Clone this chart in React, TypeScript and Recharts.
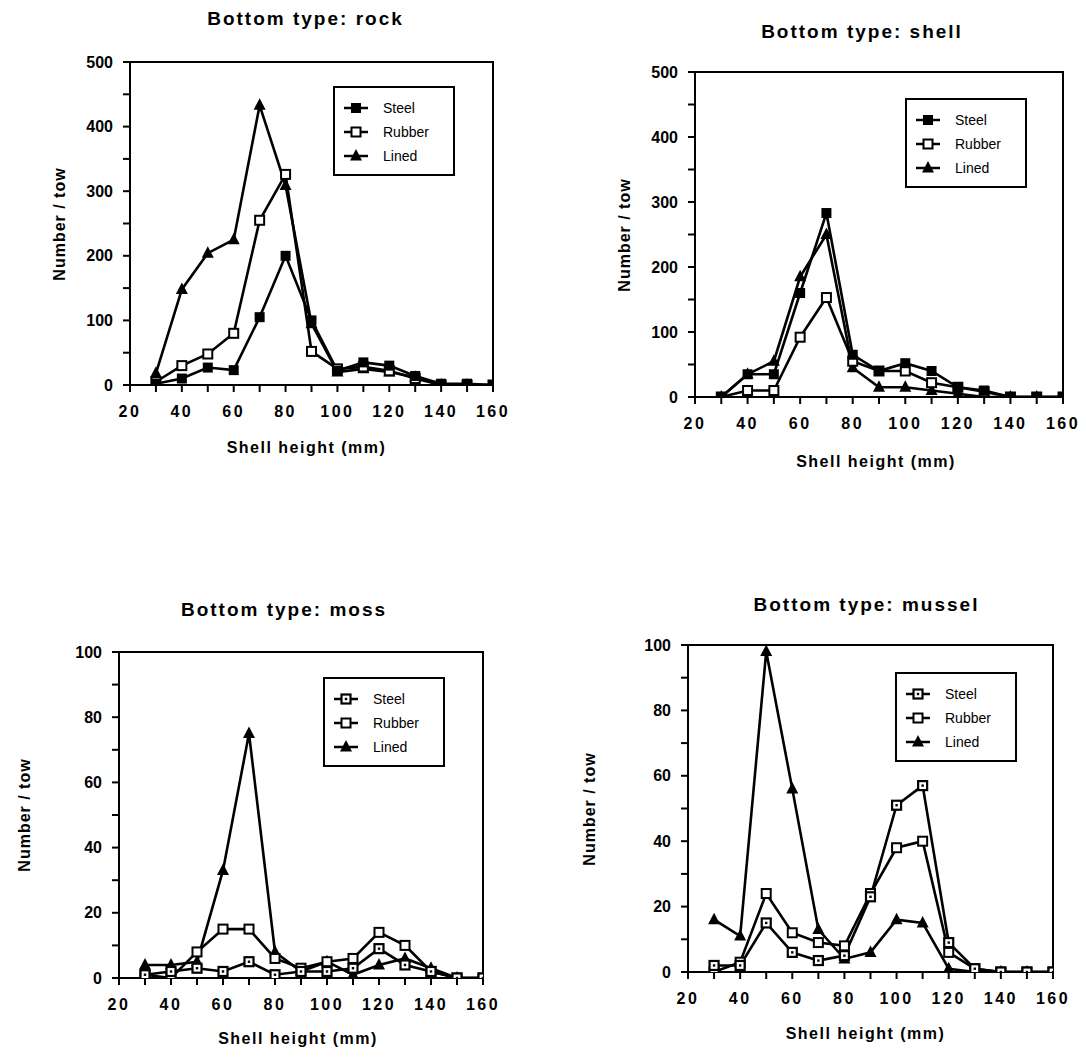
import React from "react";
import { LineChart, Line, XAxis, YAxis, ReferenceArea } from "recharts";

// shell height classes (mm)
const sizes = [30, 40, 50, 60, 70, 80, 90, 100, 110, 120, 130, 140, 150, 160];
const xTicks = [20, 30, 40, 50, 60, 70, 80, 90, 100, 110, 120, 130, 140, 150, 160];

// Bottom type: rock
const rockSteel = [2, 10, 27, 23, 105, 200, 100, 22, 35, 30, 14, 2, 2, 0];
const rockRubber = [5, 30, 48, 80, 255, 326, 52, 25, 28, 22, 10, 0, 0, 0];
const rockLined = [18, 148, 204, 225, 433, 309, 95, 20, 25, 20, 12, 0, 0, 0];

// Bottom type: shell
const shellSteel = [0, 35, 35, 160, 283, 65, 40, 52, 40, 15, 10, 0, 0, 0];
const shellRubber = [0, 10, 10, 92, 153, 55, 40, 40, 22, 15, 8, 0, 0, 0];
const shellLined = [0, 35, 55, 185, 250, 45, 15, 15, 10, 5, 0, 0, 0, 0];

// Bottom type: moss
const mossSteel = [1, 2, 3, 2, 5, 1, 2, 2, 3, 9, 4, 2, 0, 0];
const mossRubber = [1, 0, 8, 15, 15, 6, 3, 5, 6, 14, 10, 2, 0, 0];
const mossLined = [4, 4, 5, 33, 75, 8, 2, 5, 1, 4, 6, 3, 0, 0];

// Bottom type: mussel
const musselSteel = [2, 2, 15, 6, 3.5, 5, 23, 51, 57, 9, 1, 0, 0, 0];
const musselRubber = [0, 3, 24, 12, 9, 8, 24, 38, 40, 6, 1, 0, 0, 0];
const musselLined = [16, 11, 98, 56, 13, 4, 6, 16, 15, 1, 0, 0, 0, 0];

const rockTicks = [0, 50, 100, 150, 200, 250, 300, 350, 400, 450, 500];
const smallTicks = [0, 10, 20, 30, 40, 50, 60, 70, 80, 90, 100];

const FONT = '"Liberation Sans", Arial, Helvetica, sans-serif';

const buildRows = (steel: number[], rubber: number[], lined: number[]) =>
  sizes.map((s, i) => ({ size: s, steel: steel[i], rubber: rubber[i], lined: lined[i] }));

// marker shapes
const Marker = ({ cx, cy, kind }: { cx: number; cy: number; kind: string }) => {
  if (cx == null || cy == null) return null;
  if (kind === "filled") {
    return <rect x={cx - 5} y={cy - 5} width={10} height={10} fill="#000" />;
  }
  if (kind === "dotted") {
    return (
      <g>
        <rect x={cx - 4.5} y={cy - 4.5} width={9} height={9} fill="#fff" stroke="#000" strokeWidth={2.2} />
        <rect x={cx - 1.2} y={cy - 1.2} width={2.4} height={2.4} fill="#000" />
      </g>
    );
  }
  if (kind === "open") {
    return <rect x={cx - 4.5} y={cy - 4.5} width={9} height={9} fill="#fff" stroke="#000" strokeWidth={2} />;
  }
  // triangle
  return <polygon points={`${cx},${cy - 7} ${cx - 6},${cy + 4.5} ${cx + 6},${cy + 4.5}`} fill="#000" />;
};

const dotFor = (kind: string) => (props: any) => (
  <Marker key={`${kind}-${props.index}`} cx={props.cx} cy={props.cy} kind={kind} />
);

type PanelProps = {
  title: string;
  steel: number[];
  rubber: number[];
  lined: number[];
  steelKind: string;
  yMax: number;
  yTicks: number[];
  yLabelStep: number;
  L: number;
  T: number;
  W: number;
  H: number;
  titleDx: number;
  titleDy: number;
  xTitleDx: number;
  xTitleDy: number;
  yTitleDx: number;
  legendX: number;
  legendY: number;
};

const LegendBox = ({ x, y, steelKind }: { x: number; y: number; steelKind: string }) => {
  const items = [
    { name: "Steel", kind: steelKind },
    { name: "Rubber", kind: "open" },
    { name: "Lined", kind: "tri" }
  ];
  return (
    <div
      style={{
        position: "absolute",
        left: x,
        top: y,
        width: 118,
        height: 86,
        border: "2px solid #000",
        background: "#fff",
        fontFamily: FONT
      }}
    >
      {items.map((it, i) => (
        <div key={it.name} style={{ position: "absolute", left: 8, top: 12 + i * 24, height: 16, display: "flex", alignItems: "center" }}>
          <svg width={26} height={16}>
            <line x1={1} y1={8} x2={25} y2={8} stroke="#000" strokeWidth={2.5} />
            <Marker cx={13} cy={8} kind={it.kind} />
          </svg>
          <span style={{ marginLeft: 14, fontSize: 14, color: "#000", lineHeight: "16px" }}>{it.name}</span>
        </div>
      ))}
    </div>
  );
};

const Panel = (p: PanelProps) => {
  const data = buildRows(p.steel, p.rubber, p.lined);
  const left = p.L - 8 - 90;
  const top = p.T - 8 - 10;
  const plotCx = p.L - 8 + p.W / 2;
  const tickStyle = { fontSize: 16, fontWeight: 700, fill: "#000", fontFamily: FONT };
  return (
    <>
      <div
        style={{
          position: "absolute",
          left: plotCx + p.titleDx,
          top: p.T - 8 - p.titleDy,
          transform: "translate(-50%, -50%)",
          whiteSpace: "nowrap",
          fontFamily: FONT,
          fontWeight: 700,
          fontSize: 19,
          letterSpacing: 2,
          lineHeight: 1
        }}
      >
        {p.title}
      </div>
      <div style={{ position: "absolute", left, top }}>
        <LineChart
          width={90 + p.W + 24}
          height={10 + p.H + 40}
          data={data}
          margin={{ top: 10, right: 24, bottom: 0, left: 50 }}
        >
          <XAxis
            dataKey="size"
            type="number"
            domain={[20, 160]}
            ticks={xTicks}
            interval={0}
            height={40}
            tickSize={7}
            tickMargin={14}
            axisLine={{ stroke: "#000", strokeWidth: 2 }}
            tickLine={{ stroke: "#000", strokeWidth: 2 }}
            tick={{ ...tickStyle, letterSpacing: 2.5 }}
            tickFormatter={(v: number) => (v % 20 === 0 ? String(v) : "")}
            allowDataOverflow
          />
          <YAxis
            type="number"
            domain={[0, p.yMax]}
            ticks={p.yTicks}
            interval={0}
            width={40}
            tickSize={7}
            tickMargin={10}
            axisLine={{ stroke: "#000", strokeWidth: 2 }}
            tickLine={{ stroke: "#000", strokeWidth: 2 }}
            tick={tickStyle}
            tickFormatter={(v: number) => (v % p.yLabelStep === 0 ? String(v) : "")}
            allowDataOverflow
          />
          <ReferenceArea
            x1={20}
            x2={160}
            y1={0}
            y2={p.yMax}
            fill="none"
            stroke="#000"
            strokeWidth={2}
            ifOverflow="visible"
          />
          <Line
            dataKey="lined"
            stroke="#000"
            strokeWidth={2.6}
            dot={dotFor("tri")}
            isAnimationActive={false}
          />
          <Line
            dataKey="rubber"
            stroke="#000"
            strokeWidth={2.6}
            dot={dotFor("open")}
            isAnimationActive={false}
          />
          <Line
            dataKey="steel"
            stroke="#000"
            strokeWidth={2.6}
            dot={dotFor(p.steelKind)}
            isAnimationActive={false}
          />
        </LineChart>
      </div>
      <LegendBox x={p.L - 8 + p.legendX} y={p.T - 8 + p.legendY} steelKind={p.steelKind} />
      <div
        style={{
          position: "absolute",
          left: plotCx + p.xTitleDx,
          top: p.T - 8 + p.H + p.xTitleDy,
          transform: "translate(-50%, -50%)",
          whiteSpace: "nowrap",
          fontFamily: FONT,
          fontWeight: 700,
          fontSize: 16,
          letterSpacing: 1.5,
          lineHeight: 1
        }}
      >
        Shell height (mm)
      </div>
      <div
        style={{
          position: "absolute",
          left: p.L - 8 - p.yTitleDx,
          top: p.T - 8 + p.H / 2,
          transform: "translate(-50%, -50%) rotate(-90deg)",
          whiteSpace: "nowrap",
          fontFamily: FONT,
          fontWeight: 700,
          fontSize: 16,
          letterSpacing: 1,
          lineHeight: 1
        }}
      >
        Number / tow
      </div>
    </>
  );
};

export default function App() {
  return (
    <div
      style={{
        position: "relative",
        width: 1078,
        height: 1041,
        overflow: "hidden",
        background: "#fff"
      }}
    >
      <style>{`html, body { overflow: hidden; }`}</style>
      <Panel
        title="Bottom type: rock"
        steel={rockSteel}
        rubber={rockRubber}
        lined={rockLined}
        steelKind="filled"
        yMax={500}
        yTicks={rockTicks}
        yLabelStep={100}
        L={130}
        T={62}
        W={363}
        H={323}
        titleDx={-6}
        titleDy={44}
        xTitleDx={-5}
        xTitleDy={63}
        yTitleDx={70}
        legendX={203}
        legendY={24}
      />
      <Panel
        title="Bottom type: shell"
        steel={shellSteel}
        rubber={shellRubber}
        lined={shellLined}
        steelKind="filled"
        yMax={500}
        yTicks={rockTicks}
        yLabelStep={100}
        L={695}
        T={72}
        W={368}
        H={325}
        titleDx={-17}
        titleDy={41}
        xTitleDx={-3}
        xTitleDy={65}
        yTitleDx={70}
        legendX={210}
        legendY={26}
      />
      <Panel
        title="Bottom type: moss"
        steel={mossSteel}
        rubber={mossRubber}
        lined={mossLined}
        steelKind="dotted"
        yMax={100}
        yTicks={smallTicks}
        yLabelStep={20}
        L={119}
        T={652}
        W={364}
        H={326}
        titleDx={-17}
        titleDy={43}
        xTitleDx={-3}
        xTitleDy={61}
        yTitleDx={94}
        legendX={204}
        legendY={25}
      />
      <Panel
        title="Bottom type: mussel"
        steel={musselSteel}
        rubber={musselRubber}
        lined={musselLined}
        steelKind="dotted"
        yMax={100}
        yTicks={smallTicks}
        yLabelStep={20}
        L={688}
        T={645}
        W={365}
        H={327}
        titleDx={-4}
        titleDy={41}
        xTitleDx={-5}
        xTitleDy={62}
        yTitleDx={98}
        legendX={207}
        legendY={27}
      />
    </div>
  );
}
